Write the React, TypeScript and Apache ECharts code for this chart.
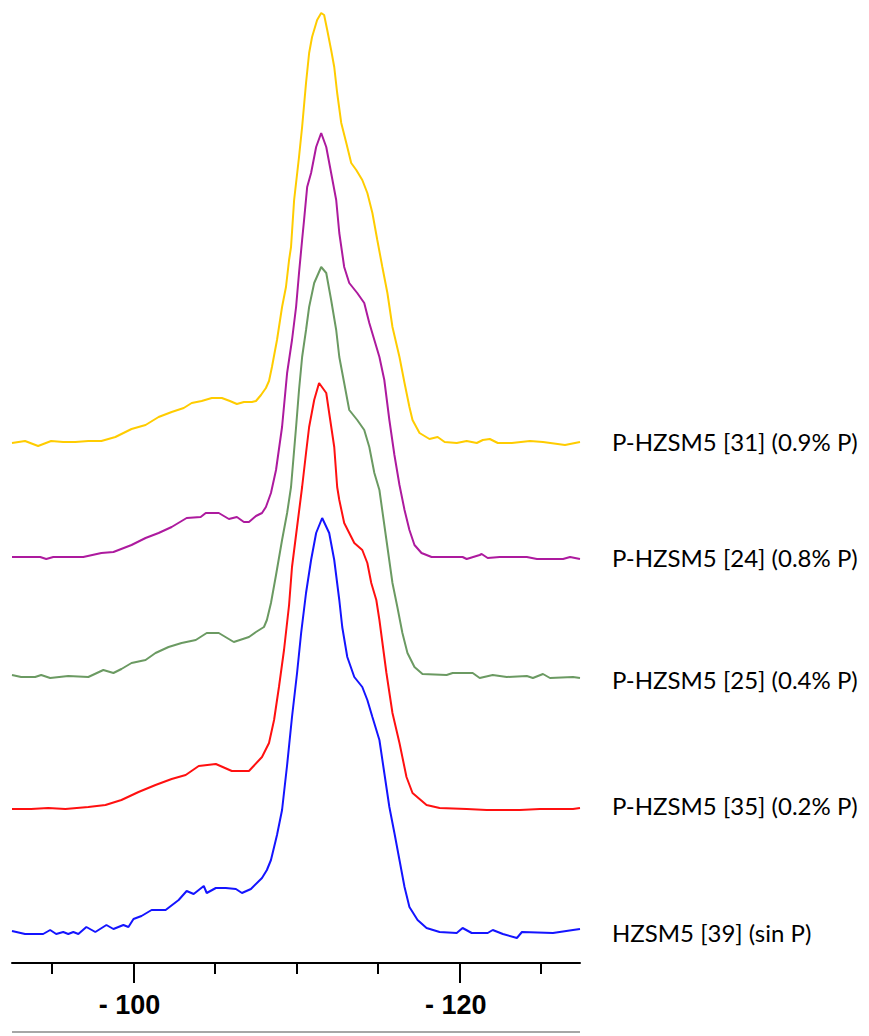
import React, { useEffect, useRef } from "react";
import * as echarts from "echarts";

// 29Si MAS NMR spectra: [chemical shift (ppm), intensity above own baseline]
const names = [
  "P-HZSM5 [31] (0.9% P)",
  "P-HZSM5 [24] (0.8% P)",
  "P-HZSM5 [25] (0.4% P)",
  "P-HZSM5 [35] (0.2% P)",
  "HZSM5 [39] (sin P)",
];
const colors = ["#FFCC00", "#AD1A9E", "#6B9A62", "#FF1010", "#1414FF"];
// vertical stacking offsets of each trace
const offsets = [521, 406, 286, 154, 30];

const spec31 = [
  [-92.55, -1], [-93.35, 1], [-94.15, -4], [-94.95, 1], [-95.69, 0], [-96.43, 0], [-97.23, 1], [-98.03, 1],
  [-98.89, 5], [-99.88, 13], [-100.74, 17], [-101.54, 25], [-102.34, 30], [-103.08, 34], [-103.57, 39],
  [-104.18, 41], [-104.8, 44], [-105.42, 44], [-105.91, 41], [-106.34, 38], [-106.77, 40], [-107.26, 40],
  [-107.51, 41], [-107.82, 47], [-108.12, 54], [-108.31, 61], [-108.49, 75], [-108.8, 102], [-109.11, 135],
  [-109.35, 155], [-109.54, 182], [-109.66, 195], [-109.85, 242], [-110.15, 285], [-110.34, 315],
  [-110.58, 359], [-110.77, 389], [-110.95, 405], [-111.26, 422], [-111.51, 429], [-111.69, 427],
  [-111.88, 412], [-112.12, 392], [-112.31, 375], [-112.49, 349], [-112.74, 319], [-113.05, 299],
  [-113.35, 279], [-113.66, 272], [-114.03, 262], [-114.34, 249], [-114.65, 229], [-114.95, 202],
  [-115.26, 175], [-115.57, 149], [-115.88, 115], [-116.31, 85], [-116.62, 59], [-116.92, 35],
  [-117.11, 22], [-117.54, 9], [-118.15, 3], [-118.65, 5], [-119.08, 0], [-119.82, -1], [-120.43, 1],
  [-121.05, -1], [-121.42, 2], [-121.85, 3], [-122.34, -1], [-123.2, -1], [-124.31, 1], [-125.11, 0],
  [-126.46, -3], [-127.38, 0],
];

const spec24 = [
  [-92.55, 0], [-94.28, 0], [-94.65, -2], [-95.08, 0], [-96.92, 0], [-98.03, 4], [-98.77, 5], [-99.88, 12],
  [-100.74, 19], [-101.54, 24], [-102.34, 30], [-103.26, 39], [-104.12, 40], [-104.43, 44], [-105.23, 44],
  [-105.85, 38], [-106.34, 40], [-106.77, 35], [-107.08, 35], [-107.51, 41], [-107.88, 44], [-108.12, 50],
  [-108.43, 64], [-108.74, 87], [-109.11, 130], [-109.42, 184], [-109.72, 217], [-109.97, 250],
  [-110.15, 284], [-110.34, 317], [-110.46, 337], [-110.65, 370], [-110.89, 384], [-111.2, 410],
  [-111.51, 424], [-111.82, 410], [-112.12, 384], [-112.43, 357], [-112.62, 324], [-112.92, 290],
  [-113.23, 274], [-113.72, 264], [-114.15, 254], [-114.46, 234], [-114.77, 217], [-115.08, 200],
  [-115.38, 177], [-115.69, 137], [-116.0, 102], [-116.31, 72], [-116.62, 47], [-116.92, 27],
  [-117.23, 12], [-117.66, 4], [-118.28, 0], [-120.18, 0], [-120.43, -2], [-121.23, 2], [-121.35, 3],
  [-121.72, -1], [-122.46, 0], [-123.26, 0], [-124.12, 0], [-124.74, -2], [-126.34, -2], [-126.77, 0],
  [-127.38, -2],
];

const spec25 = [
  [-92.55, 2], [-93.11, 0], [-93.97, 0], [-94.34, 2], [-94.89, -1], [-96.0, 1], [-97.23, 0], [-98.15, 7],
  [-98.77, 4], [-99.26, 8], [-99.88, 14], [-100.74, 17], [-101.35, 24], [-102.15, 30], [-102.95, 34],
  [-103.82, 37], [-104.49, 44], [-105.23, 44], [-106.15, 35], [-107.08, 40], [-107.51, 45], [-108.0, 50],
  [-108.18, 57], [-108.43, 74], [-108.74, 102], [-109.11, 137], [-109.42, 164], [-109.66, 190],
  [-109.97, 250], [-110.15, 287], [-110.34, 320], [-110.58, 347], [-110.77, 370], [-111.08, 394],
  [-111.51, 410], [-111.82, 404], [-112.12, 377], [-112.43, 347], [-112.62, 320], [-112.92, 294],
  [-113.23, 267], [-113.72, 257], [-114.15, 247], [-114.46, 230], [-114.77, 204], [-115.08, 187],
  [-115.51, 137], [-115.88, 94], [-116.18, 70], [-116.49, 44], [-116.8, 24], [-117.23, 10], [-117.72, 3],
  [-119.2, 2], [-119.57, 4], [-120.8, 4], [-121.23, -1], [-122.03, 2], [-122.89, 0], [-124.12, 1],
  [-124.49, -1], [-125.11, 3], [-125.54, -1], [-126.95, 0], [-127.38, -1],
];

const spec35 = [
  [-92.55, 0], [-93.72, 0], [-94.77, 1], [-95.82, 0], [-97.23, 2], [-98.28, 4], [-99.26, 9], [-100.31, 17],
  [-101.35, 24], [-102.34, 30], [-103.2, 34], [-104.0, 43], [-105.05, 45], [-106.03, 38], [-107.08, 38],
  [-107.88, 52], [-108.31, 66], [-108.62, 89], [-108.92, 122], [-109.23, 159], [-109.54, 204],
  [-109.72, 242], [-110.03, 282], [-110.34, 322], [-110.58, 356], [-110.77, 382], [-111.08, 409],
  [-111.38, 426], [-111.82, 416], [-112.0, 396], [-112.31, 362], [-112.49, 322], [-112.62, 309],
  [-112.92, 286], [-113.54, 266], [-114.03, 259], [-114.34, 246], [-114.58, 226], [-114.89, 209],
  [-115.08, 189], [-115.51, 136], [-115.88, 96], [-116.31, 66], [-116.74, 32], [-117.11, 16],
  [-117.97, 4], [-118.77, 1], [-120.43, 0], [-121.66, -1], [-123.69, -1], [-124.92, 0], [-126.95, 0],
  [-127.38, 1],
];

const spec39 = [
  [-92.55, 2], [-93.35, -1], [-94.46, -1], [-94.89, 3], [-95.26, -1], [-95.69, 1], [-96.0, -1], [-96.31, 1],
  [-96.62, -1], [-97.11, 6], [-97.66, 1], [-98.34, 8], [-98.77, 4], [-99.38, 8], [-99.69, 6], [-100.0, 14],
  [-100.49, 17], [-101.11, 23], [-101.97, 23], [-102.77, 33], [-103.26, 42], [-103.69, 39], [-104.31, 47],
  [-104.49, 40], [-105.05, 45], [-105.66, 45], [-106.28, 44], [-106.65, 40], [-107.2, 44], [-107.88, 55],
  [-108.18, 63], [-108.43, 73], [-108.8, 98], [-109.11, 123], [-109.42, 168], [-109.72, 216],
  [-110.03, 260], [-110.28, 300], [-110.58, 340], [-110.89, 373], [-111.2, 400], [-111.57, 415],
  [-112.0, 400], [-112.31, 373], [-112.62, 333], [-112.8, 306], [-113.11, 276], [-113.54, 256],
  [-114.03, 246], [-114.34, 233], [-114.65, 216], [-115.08, 193], [-115.38, 160], [-115.69, 126],
  [-116.0, 100], [-116.31, 73], [-116.62, 46], [-116.92, 26], [-117.42, 13], [-117.97, 5], [-118.77, 1],
  [-119.82, 0], [-120.18, 5], [-120.74, 0], [-121.72, 0], [-122.03, 3], [-122.65, -1], [-123.51, -5],
  [-123.82, 1], [-125.72, 0], [-126.95, 3], [-127.38, 4],
];

const spectra = [spec31, spec24, spec25, spec35, spec39];
const minorTicks = [-125, -120, -115, -110, -105, -100, -95];
const majorTicks = [-120, -100];
const xMin = -127.38;
const xMax = -92.55;

// layout of the sample labels (pixels)
const labelX = 612;
const labelY = [441, 557, 679, 805, 932];

export default function App() {
  const ref = useRef<HTMLDivElement>(null);
  useEffect(() => {
    if (!ref.current) return;
    const chart = echarts.init(ref.current, null, { renderer: "svg" });
    const series = spectra.map((s, i) => ({
      name: names[i],
      type: "line",
      xAxisIndex: 0,
      showSymbol: false,
      symbol: "none",
      lineStyle: { color: colors[i], width: 2 },
      itemStyle: { color: colors[i] },
      data: s.map((p) => [p[0], p[1] + offsets[i]]),
      emphasis: { disabled: true },
    }));
    const labels = names.map((n, i) => ({
      type: "text",
      x: labelX,
      y: labelY[i],
      style: {
        text: n,
        fill: "#000",
        font: "24px Lato",
        textVerticalAlign: "middle",
        verticalAlign: "middle",
      },
    }));
    chart.setOption({
      animation: false,
      grid: { left: 12, right: 289, top: 3, bottom: 73 },
      xAxis: [
        {
          type: "value",
          min: xMin,
          max: xMax,
          inverse: true,
          position: "bottom",
          axisLine: { show: true, lineStyle: { color: "#000", width: 2 } },
          axisTick: { show: true, length: 11, customValues: minorTicks, lineStyle: { color: "#000", width: 2 } },
          axisLabel: { show: false },
          splitLine: { show: false },
        },
        {
          type: "value",
          min: xMin,
          max: xMax,
          inverse: true,
          position: "bottom",
          axisLine: { show: false },
          axisTick: { show: true, length: 20, customValues: majorTicks, lineStyle: { color: "#000", width: 2 } },
          axisLabel: {
            show: true,
            customValues: majorTicks,
            formatter: (v: number) => "- " + Math.abs(v),
            fontFamily: "Liberation Sans",
            fontWeight: "bold",
            fontSize: 27,
            color: "#000",
            margin: 28,
            padding: [0, 8, 0, 0],
          },
          splitLine: { show: false },
        },
      ],
      yAxis: { type: "value", min: 0, max: 960, show: false },
      graphic: [
        {
          type: "rect",
          shape: { x: 12, y: 1031, width: 568, height: 2 },
          style: { fill: "#a6a6a6" },
        },
        ...labels,
      ],
      series,
    });
    return () => chart.dispose();
  }, []);
  return (
    <div
      ref={ref}
      style={{ position: "fixed", left: 0, top: 0, width: 869, height: 1036, background: "#fff" }}
    />
  );
}
